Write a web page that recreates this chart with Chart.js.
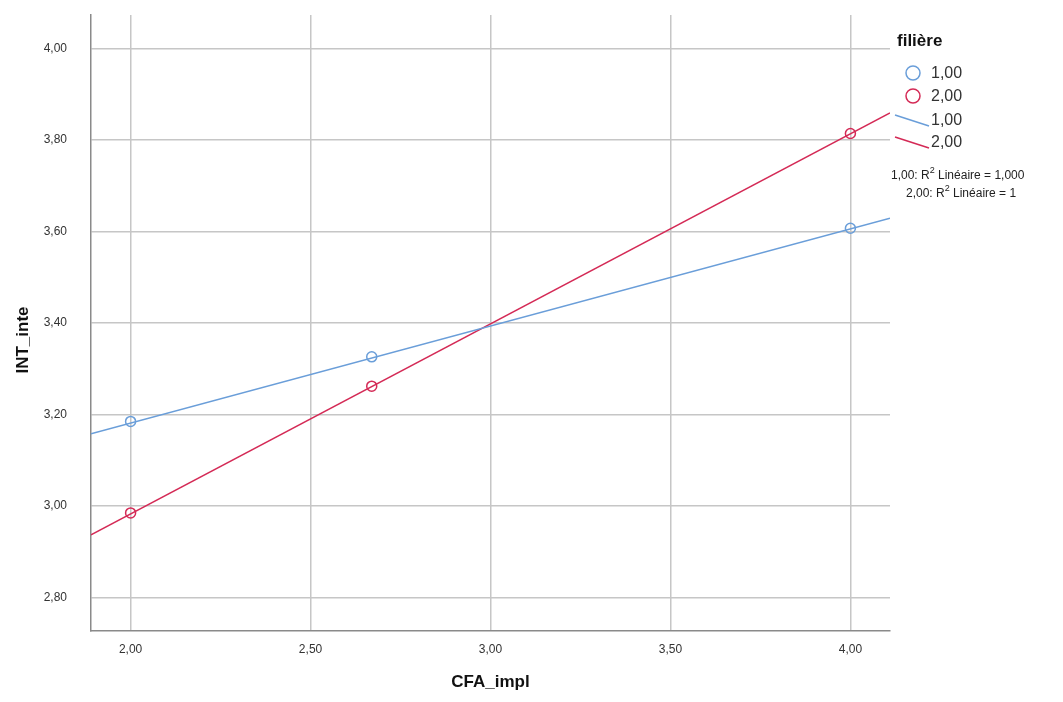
<!DOCTYPE html>
<html>
<head>
<meta charset="utf-8">
<script src="https://cdn.jsdelivr.net/npm/chart.js@4/dist/chart.umd.min.js"></script>
<style>
  body { margin: 0; background: #fff; }
  #wrap { position: relative; width: 1063px; height: 702px; }
</style>
</head>
<body>
<div id="wrap"><canvas id="scatterChart" width="1063" height="702"></canvas></div>
<script>
// tick labels
const xTicks = [2.0, 2.5, 3.0, 3.5, 4.0];
const yTicks = [2.8, 3.0, 3.2, 3.4, 3.6, 3.8, 4.0];

// observed means (CFA_impl vs INT_inte)
const cfaValues = [2.00, 2.67, 4.00];
const inteFiliere1 = [3.185, 3.326, 3.607];
const inteFiliere2 = [2.985, 3.262, 3.814];

// linear fit lines, read at the plot edges
const fitX = [1.89, 4.11];
const fitFiliere1 = [3.158, 3.629];
const fitFiliere2 = [2.937, 3.859];

const groupLabels = ['1,00', '2,00'];
const blue = '#6a9ed9';
const red = '#d42a56';

function toPoints(xs, ys) {
    return xs.map((x, i) => ({ x: x, y: ys[i] }));
}

function fmt(v) {
    return v.toFixed(2).replace('.', ',');
}

// legend + rotated y title drawn on the canvas
const sideLegend = {
    id: 'sideLegend',
    afterDraw(chart) {
        const c = chart.ctx;
        c.save();

        // y axis title
        c.translate(23, 340);
        c.rotate(-Math.PI / 2);
        c.font = 'bold 17px "Liberation Sans", Arial, sans-serif';
        c.fillStyle = '#111';
        c.textAlign = 'center';
        c.textBaseline = 'middle';
        c.fillText('INT_inte', 0, 0);
        c.setTransform(1, 0, 0, 1, 0, 0);

        c.textAlign = 'left';
        c.font = 'bold 17px "Liberation Sans", Arial, sans-serif';
        c.fillText('filière', 897, 41);

        c.font = '16px "Liberation Sans", Arial, sans-serif';
        c.fillStyle = '#333';
        const colors = [blue, red];
        // point symbols
        [73, 96].forEach((y, i) => {
            c.beginPath();
            c.arc(913, y, 7, 0, Math.PI * 2);
            c.strokeStyle = colors[i];
            c.lineWidth = 1.5;
            c.stroke();
            c.fillText(groupLabels[i], 931, y + 1);
        });
        // line symbols
        [[115, 121], [137, 143]].forEach((p, i) => {
            c.beginPath();
            c.moveTo(895, p[0]);
            c.lineTo(929, p[0] + 11);
            c.strokeStyle = colors[i];
            c.lineWidth = 1.5;
            c.stroke();
            c.fillText(groupLabels[i], 931, p[1]);
        });

        // R² notes
        c.font = '12px "Liberation Sans", Arial, sans-serif';
        c.fillStyle = '#222';
        const notes = [['1,00: R', ' Linéaire = 1,000', 891, 176], ['2,00: R', ' Linéaire = 1', 906, 194]];
        notes.forEach(n => {
            c.fillText(n[0], n[2], n[3]);
            const w = c.measureText(n[0]).width;
            c.font = '9px "Liberation Sans", Arial, sans-serif';
            c.fillText('2', n[2] + w, n[3] - 5);
            c.font = '12px "Liberation Sans", Arial, sans-serif';
            c.fillText(n[1], n[2] + w + 5, n[3]);
        });
        c.restore();
    }
};

const ctx = document.getElementById('scatterChart').getContext('2d');
new Chart(ctx, {
    type: 'scatter',
    data: {
        datasets: [{
            label: '1,00',
            data: toPoints(cfaValues, inteFiliere1),
            borderColor: blue,
            backgroundColor: 'rgba(0,0,0,0)',
            pointRadius: 5,
            pointBorderWidth: 1.5
        }, {
            label: '2,00',
            data: toPoints(cfaValues, inteFiliere2),
            borderColor: red,
            backgroundColor: 'rgba(0,0,0,0)',
            pointRadius: 5,
            pointBorderWidth: 1.5
        }, {
            label: 'fit 1,00',
            data: toPoints(fitX, fitFiliere1),
            showLine: true,
            borderColor: blue,
            borderWidth: 1.5,
            pointRadius: 0
        }, {
            label: 'fit 2,00',
            data: toPoints(fitX, fitFiliere2),
            showLine: true,
            borderColor: red,
            borderWidth: 1.5,
            pointRadius: 0
        }]
    },
    options: {
        responsive: false,
        animation: false,
        layout: { padding: { top: 15, right: 173, left: 0, bottom: 0 } },
        plugins: {
            legend: { display: false },
            tooltip: { enabled: false }
        },
        scales: {
            x: {
                min: 1.89,
                max: 4.11,
                afterBuildTicks: s => { s.ticks = xTicks.map(v => ({ value: v })); },
                afterFit: s => { s.height = 71; s.paddingLeft = 0; s.paddingRight = 0; },
                grid: { color: '#c6c6c6', lineWidth: 1.5, drawTicks: false },
                border: { color: '#8a8a8a', width: 1.5 },
                ticks: {
                    padding: 11,
                    color: '#333',
                    font: { family: '"Liberation Sans", Arial, sans-serif', size: 12 },
                    callback: v => fmt(v)
                },
                title: {
                    display: true,
                    text: 'CFA_impl',
                    color: '#111',
                    font: { family: '"Liberation Sans", Arial, sans-serif', size: 17, weight: 'bold' },
                    padding: { top: 0, bottom: 9 }
                }
            },
            y: {
                min: 2.727,
                max: 4.073,
                afterBuildTicks: s => { s.ticks = yTicks.map(v => ({ value: v })); },
                // tick padding would otherwise push the plot top down
                afterFit: s => { s.width = 91; s.paddingTop = 0; s.paddingBottom = 0; },
                grid: { color: '#c6c6c6', lineWidth: 1.5, drawTicks: false },
                border: { color: '#8a8a8a', width: 1.5 },
                ticks: {
                    padding: 24,
                    color: '#333',
                    font: { family: '"Liberation Sans", Arial, sans-serif', size: 12 },
                    callback: v => fmt(v)
                }
            }
        }
    },
    plugins: [sideLegend]
});
</script>
</body>
</html>
